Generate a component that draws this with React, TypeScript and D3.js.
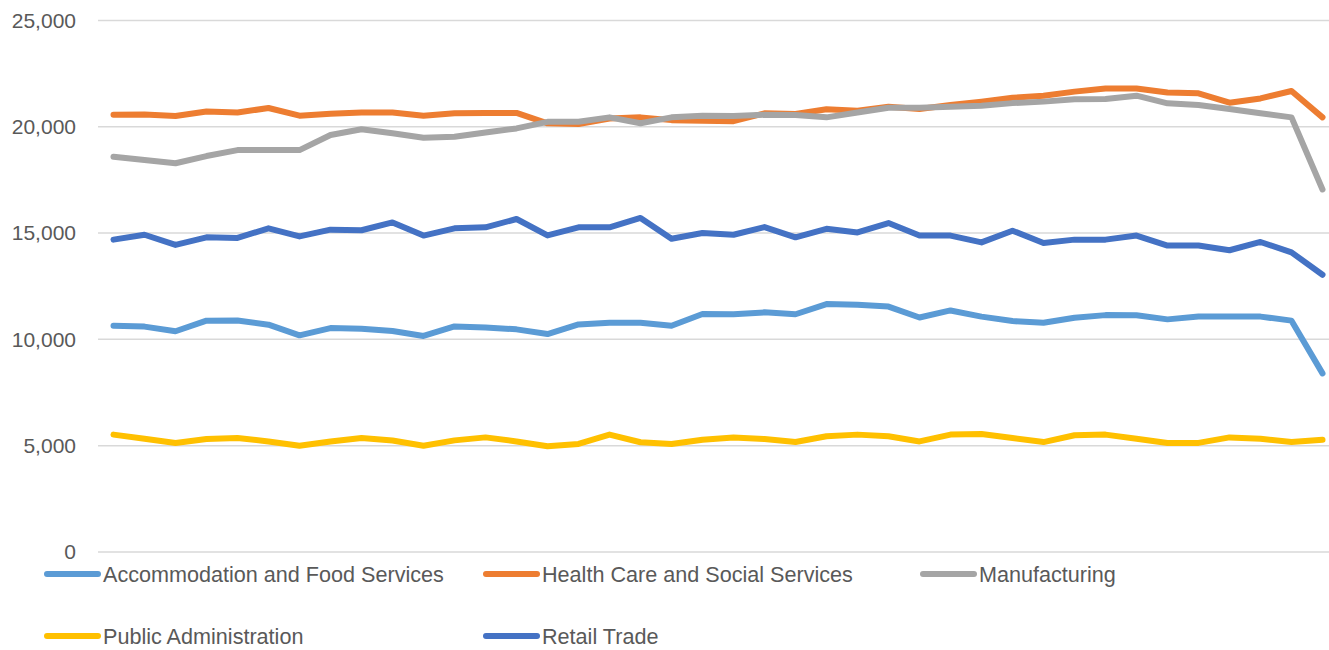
import React, { useEffect, useRef } from 'react'
import * as d3 from 'd3'

const seriesNames = [
  'Accommodation and Food Services',
  'Health Care and Social Services',
  'Manufacturing',
  'Public Administration',
  'Retail Trade'
]

const accommodation = [10640, 10600, 10380, 10880, 10890, 10690, 10190, 10530, 10500, 10390, 10160, 10610, 10560, 10470, 10250, 10700, 10780, 10780, 10640, 11190, 11180, 11270, 11180, 11660, 11630, 11540, 11030, 11360, 11070, 10860, 10780, 11020, 11140, 11130, 10940, 11070, 11070, 11070, 10880, 8400]
const healthCare = [20560, 20580, 20500, 20720, 20670, 20880, 20520, 20610, 20670, 20670, 20520, 20630, 20650, 20650, 20160, 20130, 20390, 20440, 20310, 20280, 20260, 20630, 20600, 20820, 20750, 20940, 20830, 21020, 21180, 21360, 21460, 21650, 21800, 21800, 21610, 21570, 21130, 21330, 21680, 20440]
const manufacturing = [18590, 18430, 18280, 18620, 18900, 18900, 18900, 19610, 19880, 19690, 19480, 19530, 19730, 19920, 20230, 20230, 20440, 20160, 20440, 20520, 20500, 20560, 20550, 20440, 20670, 20890, 20890, 20940, 20990, 21110, 21180, 21290, 21300, 21460, 21100, 21020, 20830, 20630, 20440, 17050]
const publicAdmin = [5520, 5330, 5130, 5310, 5360, 5200, 5000, 5200, 5360, 5240, 5000, 5250, 5390, 5200, 4970, 5080, 5520, 5160, 5080, 5280, 5390, 5310, 5170, 5440, 5520, 5440, 5200, 5520, 5550, 5360, 5170, 5490, 5520, 5330, 5130, 5130, 5390, 5330, 5170, 5280]
const retail = [14690, 14920, 14440, 14800, 14770, 15220, 14840, 15160, 15130, 15500, 14880, 15220, 15270, 15660, 14890, 15270, 15270, 15710, 14730, 15000, 14920, 15280, 14800, 15200, 15030, 15470, 14880, 14880, 14560, 15110, 14530, 14690, 14690, 14880, 14410, 14410, 14190, 14580, 14090, 13040]

const yTicks = [0, 5000, 10000, 15000, 20000, 25000]
const colors = ['#5B9BD5', '#ED7D31', '#A5A5A5', '#FFC000', '#4472C4']

const width = 1329
const height = 650
const font = "'Liberation Sans', Arial, sans-serif"

export default function App() {
  const svgRef = useRef<SVGSVGElement>(null)

  useEffect(() => {
    if (!svgRef.current) return
    const svg = d3.select(svgRef.current)
    svg.selectAll('*').remove()

    const allSeries = [accommodation, healthCare, manufacturing, publicAdmin, retail]
    const periods = d3.range(accommodation.length)

    const plotLeft = 98
    const plotRight = 1338

    const x = d3.scalePoint<number>()
      .domain(periods)
      .range([plotLeft, plotRight])
      .padding(0.5)

    const y = d3.scaleLinear()
      .domain([0, 25000])
      .range([552, 20.4])

    // Gridlines
    svg.append('g')
      .selectAll('line')
      .data(yTicks)
      .enter().append('line')
      .attr('x1', plotLeft)
      .attr('x2', plotRight)
      .attr('y1', d => y(d))
      .attr('y2', d => y(d))
      .attr('stroke', '#d9d9d9')
      .attr('stroke-width', 1.5)

    // Y labels
    svg.append('g')
      .selectAll('text')
      .data(yTicks)
      .enter().append('text')
      .attr('x', 76)
      .attr('y', d => y(d))
      .attr('dy', '0.35em')
      .attr('text-anchor', 'end')
      .style('font-family', font)
      .style('font-size', '21px')
      .attr('fill', '#595959')
      .text(d => d3.format(',')(d))

    // Lines
    const line = d3.line<number>()
      .x((_, i) => x(i) as number)
      .y(d => y(d))

    allSeries.forEach((values, k) => {
      svg.append('path')
        .datum(values)
        .attr('d', line)
        .attr('fill', 'none')
        .attr('stroke', colors[k])
        .attr('stroke-width', 6)
        .attr('stroke-linejoin', 'round')
        .attr('stroke-linecap', 'round')
    })

    // Legend
    const legendPos = [
      { x: 44, y: 574 },
      { x: 483, y: 574 },
      { x: 920, y: 574 },
      { x: 44, y: 636 },
      { x: 483, y: 636 }
    ]
    const legend = svg.append('g')
    seriesNames.forEach((name, k) => {
      const p = legendPos[k]
      const item = legend.append('g').attr('transform', `translate(${p.x},${p.y})`)
      item.append('line')
        .attr('x1', 3)
        .attr('x2', 54)
        .attr('y1', 0)
        .attr('y2', 0)
        .attr('stroke', colors[k])
        .attr('stroke-width', 6)
        .attr('stroke-linecap', 'round')
      item.append('text')
        .attr('x', 59)
        .attr('y', 0)
        .attr('dy', '0.35em')
        .style('font-family', font)
        .style('font-size', '21.6px')
        .attr('fill', '#595959')
        .text(name)
    })
  }, [])

  return (
    <div style={{ position: 'fixed', left: 0, top: 0, width, height, background: '#fff' }}>
      <svg ref={svgRef} width={width} height={height} style={{ display: 'block' }} />
    </div>
  )
}
